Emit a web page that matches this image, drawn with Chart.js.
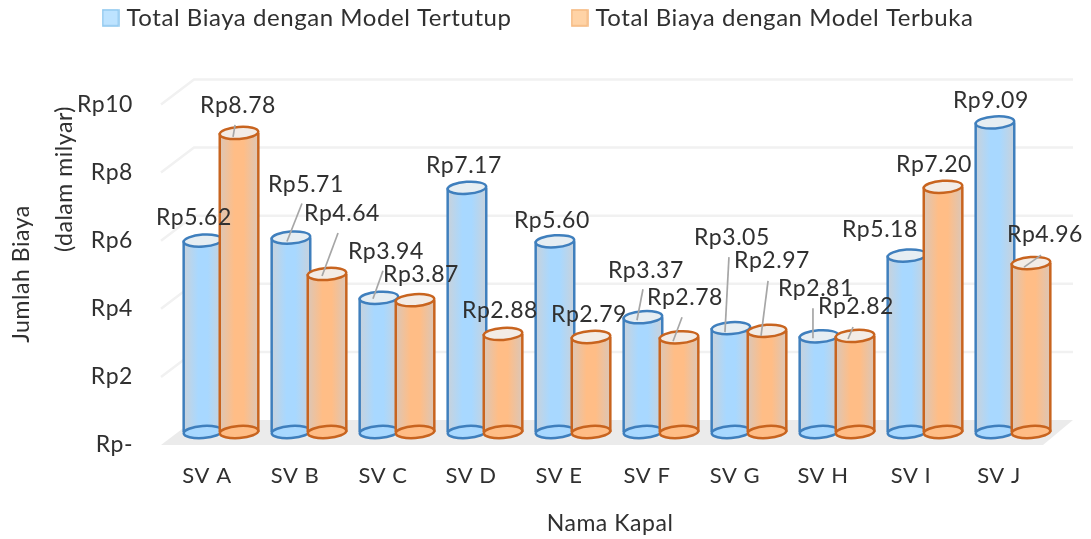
<!DOCTYPE html>
<html><head><meta charset="utf-8">
<style>html,body{margin:0;padding:0;background:#fff}canvas{display:block}</style>
<script src="https://cdn.jsdelivr.net/npm/chart.js@4"></script>
</head><body><canvas id="c" width="1091" height="539"></canvas>
<script>
const categories = ['SV A','SV B','SV C','SV D','SV E','SV F','SV G','SV H','SV I','SV J'];
const tertutup = [5.62,5.71,3.94,7.17,5.60,3.37,3.05,2.81,5.18,9.09];
const terbuka  = [8.78,4.64,3.87,2.88,2.79,2.78,2.97,2.82,7.20,4.96];
const seriesNames = ['Total Biaya dengan Model Tertutup','Total Biaya dengan Model Terbuka'];
const yTicks = [0,2,4,6,8,10];
// label centre offset from cylinder top centre: [dx, dy, leaderFromX, leaderFromY, leaderToX, leaderToY] (relative)
const labelsBlue = [[-9,-23],[15,-53,11,-34,-4,4],[7,-46,4,-27,-6,1],[-3,-22],[-3,-21],[3,-47,0,-28,-6,3],[1,-91,-2,-71,-6,4],[-3,-48,-6,-28,-6,2],[-27,-26],[-4,-22]];
const labelsOrange = [[-1,-27,-4,-8,-6,4],[15,-60,11,-41,-5,2],[6,-26],[-3,-23],[-2,-22],[6,-40,3,-20,-6,4],[5,-70,1,-50,-6,5],[1,-29,-2,-9,-7,3],[-9,-22],[14,-28,10,-8,-7,4]];
const font = 'Lato, Carlito, sans-serif';
const textColor = '#303030';
const DX = 14, DY = 13, BDX = 33, BDY = 25, RY = 6;

function swatch(fill, stroke){
  const s = document.createElement('canvas'); s.width = 18; s.height = 18;
  const x = s.getContext('2d');
  x.fillStyle = fill; x.strokeStyle = stroke; x.lineWidth = 1.5;
  x.fillRect(1,1,16,16); x.strokeRect(1,1,16,16);
  return s;
}

const cyl = {
  id:'cyl',
  beforeLayout(ch){ ch.ctx.letterSpacing = '0.55px'; },
  afterLayout(ch){ ch.legend.top -= 4; },
  beforeDraw(ch){ ch.ctx.letterSpacing = '0.55px'; },
  beforeDatasetsDraw(ch){
    const c = ch.ctx, y = ch.scales.y, a = ch.chartArea, y0 = y.getPixelForValue(0);
    c.save();
    c.fillStyle = '#ebebeb';
    c.beginPath(); c.moveTo(a.left-2,y0); c.lineTo(a.left-2+BDX,y0-BDY); c.lineTo(a.right+30,y0-BDY); c.lineTo(a.right,y0); c.closePath(); c.fill();
    c.lineWidth = 2.5;
    yTicks.forEach(t=>{ if(!t) return;
      const p = y.getPixelForValue(t);
      c.strokeStyle = '#f1f1f1';
      c.beginPath(); c.moveTo(a.left-2,p); c.lineTo(a.left-2+BDX,p-BDY); c.lineTo(a.right+30,p-BDY); c.stroke();
    });
    c.restore();
  },
  beforeDatasetDraw(){ return false; },
  afterDatasetsDraw(ch){
    const c = ch.ctx, skin = [
      {line:'#3f7fbd', mid:'#a8d8ff', edge:'#c8d2dc', top:'#e6eef3', base:'#a8d8ff'},
      {line:'#c8641f', mid:'#ffbd86', edge:'#dcc6b6', top:'#f3ece6', base:'#ffbd86'}];
    const tilt = -0.07;
    ch.data.datasets.forEach((d,di)=>{
      const s = skin[di];
      ch.getDatasetMeta(di).data.forEach(el=>{
        const w = el.width + 2.5, x = el.x + DX, t = el.y - DY, b = el.base - DY, l = x - w/2, r = x + w/2;
        c.save();
        const g = c.createLinearGradient(l,0,r,0);
        g.addColorStop(0,s.edge); g.addColorStop(0.38,s.mid); g.addColorStop(0.62,s.mid); g.addColorStop(1,s.edge);
        c.fillStyle = g; c.strokeStyle = s.line; c.lineWidth = 2.5;
        c.beginPath(); c.moveTo(l,t); c.lineTo(l,b); c.ellipse(x,b,w/2,RY,tilt,Math.PI,0,true); c.lineTo(r,t); c.ellipse(x,t,w/2,RY,tilt,0,Math.PI,false); c.closePath(); c.fill();
        c.beginPath(); c.moveTo(l,t); c.lineTo(l,b); c.moveTo(r,t); c.lineTo(r,b); c.stroke();
        c.beginPath(); c.ellipse(x,b,w/2,RY,tilt,0,Math.PI*2); c.fillStyle = s.base; c.fill(); c.stroke();
        c.beginPath(); c.ellipse(x,t,w/2,RY,tilt,0,Math.PI*2); c.fillStyle = s.top; c.fill(); c.stroke();
        c.restore();
      });
    });
    // leader lines + data labels
    c.save();
    c.font = '23px '+font; c.textAlign = 'center'; c.textBaseline = 'middle';
    [labelsBlue,labelsOrange].forEach((L,di)=>{
      ch.getDatasetMeta(di).data.forEach((el,i)=>{
        const x = el.x + DX, t = el.y - DY, o = L[i];
        if(o.length>2){ c.strokeStyle='#a6a6a6'; c.lineWidth=1.7; c.beginPath(); c.moveTo(x+o[2],t+o[3]); c.lineTo(x+o[4],t+o[5]); c.stroke(); }
      });
    });
    [labelsBlue,labelsOrange].forEach((L,di)=>{
      ch.getDatasetMeta(di).data.forEach((el,i)=>{
        const x = el.x + DX, t = el.y - DY, o = L[i];
        c.fillStyle = textColor;
        c.fillText('Rp'+ch.data.datasets[di].data[i].toFixed(2), x+o[0], t+o[1]);
      });
    });
    c.restore();
    // axis titles
    c.save();
    c.font = '23px '+font; c.fillStyle = textColor; c.textAlign='center'; c.textBaseline='middle';
    c.fillText('Nama Kapal',610,524);
    c.translate(22,274); c.rotate(-Math.PI/2); c.fillText('Jumlah Biaya',0,0); c.rotate(Math.PI/2); c.translate(-22,-274);
    c.translate(65,179); c.rotate(-Math.PI/2); c.fillText('(dalam milyar)',0,0);
    c.restore();
  }
};

new Chart(document.getElementById('c'),{
  type:'bar',
  data:{labels:categories,datasets:[
    {label:seriesNames[0],data:tertutup,backgroundColor:'#bde3ff',borderColor:'#8cc6ee'},
    {label:seriesNames[1],data:terbuka,backgroundColor:'#ffd3a6',borderColor:'#f5b77c'}]},
  options:{
    responsive:false,animation:false,
    categoryPercentage:0.82,barPercentage:1,
    layout:{padding:{top:-63,left:37,right:48,bottom:0}},
    plugins:{
      tooltip:{enabled:false},
      legend:{position:'top',labels:{usePointStyle:true,pointStyleWidth:8,padding:64,color:textColor,font:{family:font,size:24},
        generateLabels(ch){return ch.data.datasets.map((d,i)=>({text:d.label,pointStyle:swatch(d.backgroundColor,d.borderColor),fontColor:textColor,datasetIndex:i}));}}}
    },
    scales:{
      x:{grid:{display:false},border:{display:false},
        afterFit(s){s.height=94;},
        ticks:{color:textColor,font:{family:font,size:22},padding:10}},
      y:{min:0,max:11.78,grid:{display:false,drawTicks:false},border:{display:false},
        afterFit(s){s.width=126;},
        afterBuildTicks(s){s.ticks=yTicks.map(v=>({value:v}));},
        ticks:{color:textColor,font:{family:font,size:23},padding:30,callback:v=>v===0?'Rp-':'Rp'+v}}
    }
  },
  plugins:[cyl]
});
</script></body></html>
